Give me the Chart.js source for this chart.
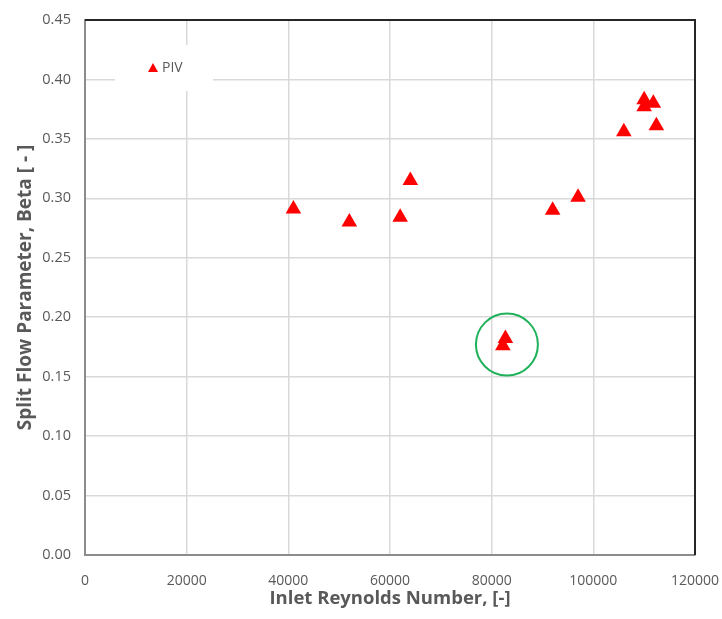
<!DOCTYPE html>
<html>
<head>
<meta charset="utf-8">
<script src="https://cdn.jsdelivr.net/npm/chart.js@4/dist/chart.umd.min.js"></script>
<style>
  body { margin: 0; background: #fff; }
  #wrap { width: 722px; height: 619px; }
</style>
</head>
<body>
<div id="wrap"><canvas id="pivChart" width="722" height="619"></canvas></div>
<script>
// Inlet Reynolds number vs split flow parameter (PIV measurements)
const reynolds = [41000, 52000, 62000, 64000, 82200, 82700, 92000, 97000, 106000, 110000, 110000, 111800, 112400];
const beta = [0.291, 0.280, 0.284, 0.315, 0.176, 0.182, 0.290, 0.301, 0.356, 0.383, 0.377, 0.380, 0.361];

// highlighted (circled) region
const circleX = [83000];
const circleY = [0.177];

const xTicks = [0, 20000, 40000, 60000, 80000, 100000, 120000];
const yTicks = [0, 0.05, 0.1, 0.15, 0.2, 0.25, 0.3, 0.35, 0.4, 0.45];

const grey = "#595959";
const fontFam = "'Open Sans', 'Liberation Sans', sans-serif";

// legend drawn inside the plot, plus top/right frame
const framePlugin = {
  id: "frame",
  afterDraw(chart) {
    const ctx = chart.ctx;
    const a = chart.chartArea;
    ctx.save();
    ctx.strokeStyle = "#262626";
    ctx.lineWidth = 2;
    ctx.beginPath();
    ctx.moveTo(a.left, a.top);
    ctx.lineTo(a.right, a.top);
    ctx.lineTo(a.right, a.bottom);
    ctx.stroke();

    // legend box
    ctx.fillStyle = "#ffffff";
    ctx.fillRect(a.left + 30, a.top + 25, 98, 46);
    ctx.fillStyle = "#ff0000";
    const tx = a.left + 68, ty = a.top + 48;
    ctx.beginPath();
    ctx.moveTo(tx, ty - 5);
    ctx.lineTo(tx + 5, ty + 4);
    ctx.lineTo(tx - 5, ty + 4);
    ctx.closePath();
    ctx.fill();
    ctx.fillStyle = grey;
    ctx.font = "14px " + fontFam;
    ctx.textBaseline = "middle";
    ctx.fillText("PIV", tx + 9, ty);
    ctx.restore();
  },
};

const ctx = document.getElementById("pivChart").getContext("2d");
new Chart(ctx, {
  type: "scatter",
  data: {
    datasets: [
      {
        label: "PIV",
        data: reynolds.map((r, i) => ({ x: r, y: beta[i] })),
        pointStyle: "triangle",
        pointRadius: 9,
        pointHoverRadius: 9,
        backgroundColor: "#ff0000",
        borderColor: "#ff0000",
        borderWidth: 0,
      },
      {
        label: "highlight",
        data: circleX.map((c, i) => ({ x: c, y: circleY[i] })),
        pointStyle: "circle",
        pointRadius: 31,
        backgroundColor: "rgba(0,0,0,0)",
        borderColor: "#1fb25a",
        borderWidth: 2,
      },
    ],
  },
  options: {
    responsive: false,
    animation: false,
    layout: { autoPadding: false, padding: { top: 20, right: 27, left: 0, bottom: 0 } },
    plugins: {
      legend: { display: false },
      tooltip: { enabled: false },
    },
    scales: {
      x: {
        type: "linear",
        min: 0,
        max: 120000,
        afterBuildTicks: (s) => { s.ticks = xTicks.map((v) => ({ value: v })); },
        afterFit: (s) => {
          s.height = 64;
          s.paddingLeft = 0;
          s.paddingRight = 0;
        },
        grid: { color: "#d9d9d9", lineWidth: 1.5, drawTicks: false },
        border: { color: "#8c8c8c", width: 2 },
        ticks: {
          color: grey,
          padding: 18,
          font: { size: 14, family: fontFam },
          callback: (v) => String(v),
          maxRotation: 0,
        },
        title: {
          display: true,
          text: "Inlet Reynolds Number, [-]",
          color: grey,
          font: { size: 18.5, weight: "bold", family: fontFam },
          padding: { top: 4, bottom: 9 },
        },
      },
      y: {
        min: 0,
        max: 0.45,
        afterBuildTicks: (s) => { s.ticks = yTicks.map((v) => ({ value: v })); },
        afterFit: (s) => {
          s.width = 85;
          s.paddingTop = 0;
          s.paddingBottom = 0;
        },
        grid: { color: "#d9d9d9", lineWidth: 1.5, drawTicks: false },
        border: { color: "#8c8c8c", width: 2 },
        ticks: {
          color: grey,
          padding: 14,
          font: { size: 14.5, family: fontFam },
          callback: (v) => v.toFixed(2),
        },
        title: {
          display: true,
          text: "Split Flow Parameter, Beta [ - ]",
          color: grey,
          font: { size: 19, weight: "bold", family: fontFam },
          padding: { top: 14, bottom: 4 },
        },
      },
    },
  },
  plugins: [framePlugin],
});
</script>
</body>
</html>
